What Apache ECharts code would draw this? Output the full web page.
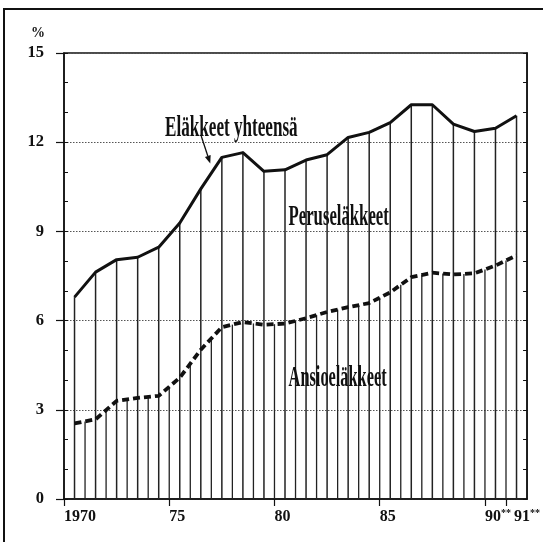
<!DOCTYPE html>
<html><head><meta charset="utf-8">
<script src="https://cdn.jsdelivr.net/npm/echarts@6/dist/echarts.min.js"></script>
<style>html,body{margin:0;padding:0;background:#fff}#c{width:543px;height:542px}</style>
</head><body><div id="c"></div>
<script>
// Data
const years = [1970,1971,1972,1973,1974,1975,1976,1977,1978,1979,1980,1981,1982,1983,1984,1985,1986,1987,1988,1989,1990,1991];
const elakkeetYhteensa = [6.79,7.63,8.05,8.13,8.47,9.28,10.43,11.49,11.65,11.02,11.07,11.40,11.58,12.16,12.33,12.66,13.26,13.26,12.61,12.36,12.47,12.89];
const ansioelakkeet = [2.54,2.68,3.30,3.40,3.47,4.08,5.02,5.78,5.95,5.86,5.90,6.08,6.29,6.45,6.59,6.95,7.46,7.61,7.55,7.59,7.85,8.19];
const tickYears = [1970,1975,1980,1985,1990,1991];
const tickLabels = ['1970','75','80','85','90**','91**'];
const yTicks = [0,3,6,9,12,15];
const labelTotal = 'Eläkkeet yhteensä';
const labelPerus = 'Peruseläkkeet';
const labelAnsio = 'Ansioeläkkeet';

const FONT = 'Liberation Serif';
const INK = '#111';
const totalData = years.map((y,i)=>[y+0.5, elakkeetYhteensa[i]]);
const ansioData = years.map((y,i)=>[y+0.5, ansioelakkeet[i]]);
const lastTick = tickYears[tickYears.length-1];

function xFormatter(v){
  const i = tickYears.indexOf(Math.round(v));
  if (i < 0) return '';
  const t = tickLabels[i];
  const star = t.indexOf('**');
  if (star < 0) return '{n|' + t + '}';
  return '{n|' + t.slice(0, star) + '}{s|**}';
}
const richX = {
  n:{fontFamily:FONT, fontWeight:'bold', fontSize:16, color:INK, lineHeight:18},
  s:{fontFamily:FONT, fontWeight:'bold', fontSize:10, color:INK, lineHeight:10, verticalAlign:'top', padding:[0,0,9,0]}
};

const chart = echarts.init(document.getElementById('c'), null, {renderer:'canvas'});
const option = {
  backgroundColor:'#fff',
  animation:false,
  grid:{left:64, right:14, top:53, bottom:43, show:true, borderColor:INK, borderWidth:1.5, backgroundColor:'transparent'},
  xAxis:[{
    type:'value', min:1970, max:1992, position:'bottom',
    axisLine:{show:true, onZero:false, lineStyle:{color:INK, width:1.5}},
    axisTick:{show:true, customValues:tickYears, length:7, lineStyle:{color:INK, width:1.2}},
    axisLabel:{show:true, customValues:tickYears.slice(0,-1), formatter:xFormatter, align:'left', margin:9,
      hideOverlap:false, rich:richX},
    splitLine:{show:false}
  },{
    type:'value', min:1970, max:1992, position:'bottom', offset:0,
    axisLine:{show:false, onZero:false}, axisTick:{show:false},
    axisLabel:{show:true, customValues:[lastTick], formatter:xFormatter, align:'left', margin:9,
      padding:[0,0,0,8], hideOverlap:false, rich:richX},
    splitLine:{show:false}
  }],
  yAxis:[
    {type:'value', min:0, max:15, interval:3, position:'left',
      axisLine:{show:true, lineStyle:{color:INK, width:1.5}},
      axisTick:{show:true, length:8, lineStyle:{color:INK, width:1.2}},
      axisLabel:{margin:20, fontFamily:FONT, fontWeight:'bold', fontSize:16.5, color:INK},
      splitLine:{show:true, lineStyle:{type:[1.5,1.5], color:'#555', width:1}}},
    {type:'value', min:0, max:15, interval:1, position:'left', offset:0,
      axisLine:{show:false}, axisTick:{show:true, inside:true, length:4, lineStyle:{color:INK, width:1}},
      axisLabel:{show:false}, splitLine:{show:false}},
    {type:'value', min:0, max:15, interval:1, position:'right', offset:0,
      axisLine:{show:true, lineStyle:{color:INK, width:1.5}}, axisTick:{show:true, inside:true, length:4, lineStyle:{color:INK, width:1}},
      axisLabel:{show:false}, splitLine:{show:false}}
  ],
  series:[
    {name:labelTotal, type:'line', data:totalData, symbol:'none', z:5,
      lineStyle:{color:INK, width:3, join:'round'}},
    {name:labelAnsio, type:'line', data:ansioData, symbol:'none', z:5,
      lineStyle:{color:INK, width:3.8, type:[7,4], cap:'butt'}},
    {name:'hatch-tall', type:'custom', data:totalData, z:2,
      renderItem:(params, api)=>{
        const x = api.value(0), v = api.value(1);
        const a = api.coord([x, v]), b = api.coord([x, 0]);
        return {type:'line', shape:{x1:a[0], y1:a[1], x2:b[0], y2:b[1]}, style:{stroke:'#222', lineWidth:1.5}};
      }},
    {name:'hatch-short', type:'custom', data:ansioData, z:2,
      renderItem:(params, api)=>{
        const i = params.dataIndex;
        if (i >= ansioData.length-1) return null;
        const a = api.coord(ansioData[i]), b = api.coord(ansioData[i+1]);
        const mx = (a[0]+b[0])/2, my = (a[1]+b[1])/2;
        const base = api.coord([(ansioData[i][0]+ansioData[i+1][0])/2, 0]);
        return {type:'line', shape:{x1:mx, y1:my, x2:mx, y2:base[1]}, style:{stroke:'#222', lineWidth:1.3}};
      }}
  ]
};
chart.setOption(option);

const P = p => chart.convertToPixel({seriesIndex:0}, p);
function label(text, pos, sx, sy){
  const q = P(pos);
  return {type:'text', x:q[0], y:q[1], scaleX:sx, scaleY:sy, z:10,
    style:{text:text, fontFamily:FONT, fontWeight:'bold', fontSize:19, fill:INK, align:'center', verticalAlign:'middle'}};
}
const a1 = P([1976.52, 12.21]), a2 = P([1976.95, 11.28]);
const dx = a2[0]-a1[0], dy = a2[1]-a1[1], L = Math.hypot(dx,dy), ux = dx/L, uy = dy/L;
const hl = 8, hw = 3;
const hb = [a2[0]-ux*hl, a2[1]-uy*hl];
chart.setOption({graphic:[
  {type:'rect', shape:{x:4, y:9, width:620, height:620}, style:{fill:'none', stroke:INK, lineWidth:2}, silent:true},
  {type:'text', x:38, y:33, style:{text:'%', fontFamily:FONT, fontWeight:'bold', fontSize:14, fill:INK, align:'center', verticalAlign:'middle'}},
  label(labelTotal, [1977.95, 12.45], 0.9, 1.5),
  label(labelPerus, [1983.05, 9.45], 0.88, 1.5),
  label(labelAnsio, [1983.0, 4.05], 0.86, 1.5),
  {type:'line', shape:{x1:a1[0], y1:a1[1], x2:hb[0], y2:hb[1]}, style:{stroke:INK, lineWidth:1.3}},
  {type:'polygon', shape:{points:[[a2[0],a2[1]],[hb[0]-uy*hw, hb[1]+ux*hw],[hb[0]+uy*hw, hb[1]-ux*hw]]}, style:{fill:INK}}
]});
</script>
</body></html>
